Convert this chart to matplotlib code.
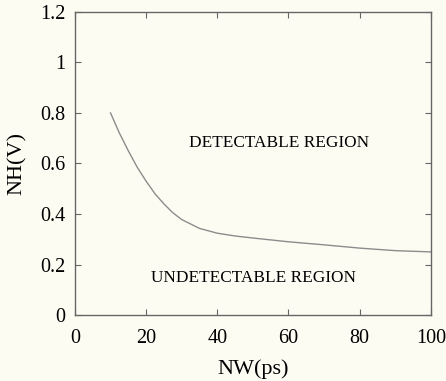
import matplotlib
matplotlib.use("Agg")
import matplotlib.pyplot as plt

# curve
nw_ps = [10, 12.5, 15, 17.5, 20, 22.5, 25, 27.5, 30, 35, 40, 45, 50, 60, 70, 80, 90, 100]
nh_v = [0.80, 0.72, 0.65, 0.585, 0.53, 0.48, 0.44, 0.405, 0.378, 0.343, 0.324,
        0.313, 0.305, 0.29, 0.278, 0.265, 0.255, 0.25]

x_ticks = [0, 20, 40, 60, 80, 100]
y_ticks = [0, 0.2, 0.4, 0.6, 0.8, 1, 1.2]
y_labels = ["0", "0.2", "0.4", "0.6", "0.8", "1", "1.2"]

bg = "#fdfcf3"
plt.rcParams["font.family"] = ["Liberation Serif", "DejaVu Serif"]

fig = plt.figure(figsize=(4.46, 3.81), dpi=100, facecolor=bg)
ax = fig.add_axes([0.168, 0.173, 0.798, 0.796], facecolor=bg)

ax.plot(nw_ps, nh_v, color="#8c8c8c", linewidth=1.0)

ax.set_xlim(0, 100)
ax.set_ylim(0, 1.2)
ax.set_xticks(x_ticks)
ax.set_yticks(y_ticks)
ax.set_yticklabels(y_labels)
ax.tick_params(direction="in", length=4, width=0.8, color="#666666",
               labelsize=14.5, top=True, right=True)
ax.tick_params(axis="x", pad=10)
ax.tick_params(axis="y", pad=7)
for s in ax.spines.values():
    s.set_color("#666666")
    s.set_linewidth(1.0)

ax.set_xlabel("NW(ps)", fontsize=16, labelpad=8)
ax.set_ylabel("NH(V)", fontsize=16, labelpad=9)

ax.text(57.3, 0.679, "DETECTABLE REGION", fontsize=12.4, ha="center", va="center")
ax.text(50.1, 0.145, "UNDETECTABLE REGION", fontsize=12.4, ha="center", va="center")

fig.savefig("out.png", dpi=100, facecolor=bg)
